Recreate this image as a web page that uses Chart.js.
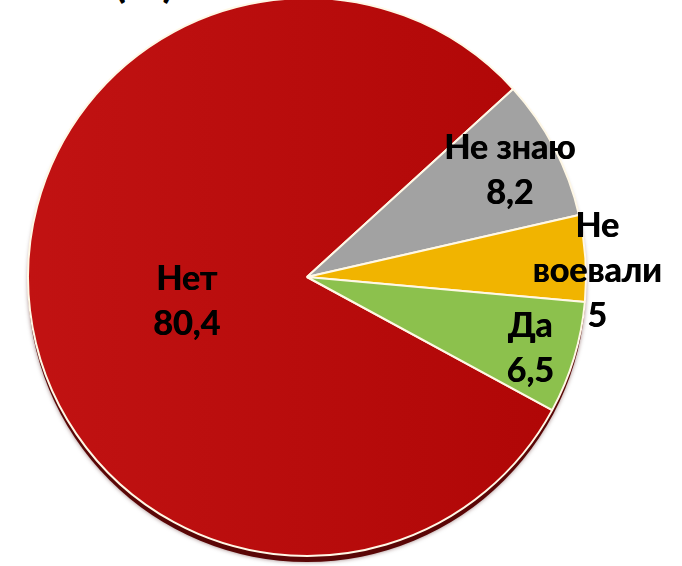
<!DOCTYPE html>
<html>
<head>
<meta charset="utf-8">
<script src="https://cdn.jsdelivr.net/npm/chart.js@4"></script>
<style>
  html, body { margin: 0; padding: 0; background: #fff; overflow: hidden; }
  body { width: 682px; height: 566px; position: relative; }
  #wrap { position: absolute; left: 0; top: -3px; width: 682px; height: 570px; }
  #title { position: absolute; left: 114px; top: -42px; font: bold 44px Lato, sans-serif; line-height: 44px; color: #000; white-space: nowrap; }
</style>
</head>
<body>
<div id="title">(%)</div>
<div id="wrap"><canvas id="pie"></canvas></div>
<script>
const categories = ["Нет", "Не знаю", "Не\nвоевали", "Да"];
const values = [80.4, 8.2, 5, 6.5];
const colors = ["#bb0e0e", "#a2a2a2", "#f1b400", "#8cc14d"];

// where each label sits: fraction of radius, and a small angle nudge (deg)
const labelRadius = [0.44, 0.82, 1.04, 0.84];
const labelNudge = [-4.4, 0, 2.7, 1];

function fmt(v) {
  return String(v).replace(".", ",");
}

// dark rim under the pie to fake the 3D edge
const rimPlugin = {
  id: "rim",
  beforeDatasetsDraw(chart) {
    const arc = chart.getDatasetMeta(0).data[0];
    if (!arc) return;
    const ctx = chart.ctx;
    ctx.save();
    ctx.beginPath();
    ctx.arc(arc.x, arc.y + 6, arc.outerRadius, 0, Math.PI * 2);
    ctx.fillStyle = "#5a0606";
    ctx.shadowColor = "rgba(60,0,0,0.5)";
    ctx.shadowBlur = 4;
    ctx.fill();
    ctx.restore();
  }
};

const labelPlugin = {
  id: "sliceLabels",
  afterDatasetsDraw(chart) {
    const ctx = chart.ctx;
    const meta = chart.getDatasetMeta(0);
    ctx.save();
    ctx.font = "bold 34px Lato, sans-serif";
    ctx.fillStyle = "#000";
    ctx.textAlign = "center";
    ctx.textBaseline = "middle";
    meta.data.forEach((arc, i) => {
      const mid = (arc.startAngle + arc.endAngle) / 2 + labelNudge[i] * Math.PI / 180;
      const r = arc.outerRadius * labelRadius[i];
      const x = arc.x + Math.cos(mid) * r;
      const y = arc.y + Math.sin(mid) * r;
      const lines = categories[i].split("\n").concat([fmt(values[i])]);
      const lh = 45;
      const top = y - (lines.length - 1) * lh / 2;
      lines.forEach((t, k) => {
        // slight double-strike to get a heavier weight
        ctx.fillText(t, x, top + k * lh);
        ctx.fillText(t, x + 0.6, top + k * lh);
      });
    });
    ctx.restore();
  }
};

const ctx = document.getElementById("pie").getContext("2d");
new Chart(ctx, {
  type: "pie",
  data: {
    labels: categories,
    datasets: [{
      data: values,
      backgroundColor: (c) => {
        if (c.dataIndex !== 0 || !c.chart.chartArea) return colors[c.dataIndex];
        const a = c.chart.chartArea;
        const g = c.chart.ctx.createLinearGradient(a.left, 0, a.right, 0);
        g.addColorStop(0, "#c21313");
        g.addColorStop(1, "#ae0505");
        return g;
      },
      borderColor: "#fff8e6",
      borderWidth: 2,
      hoverOffset: 0
    }]
  },
  options: {
    responsive: true,
    maintainAspectRatio: false,
    animation: false,
    rotation: 118.5,
    layout: { padding: { right: 68, bottom: 10 } },
    plugins: {
      legend: { display: false },
      tooltip: { enabled: false }
    },
    events: []
  },
  plugins: [rimPlugin, labelPlugin]
});
</script>
</body>
</html>
